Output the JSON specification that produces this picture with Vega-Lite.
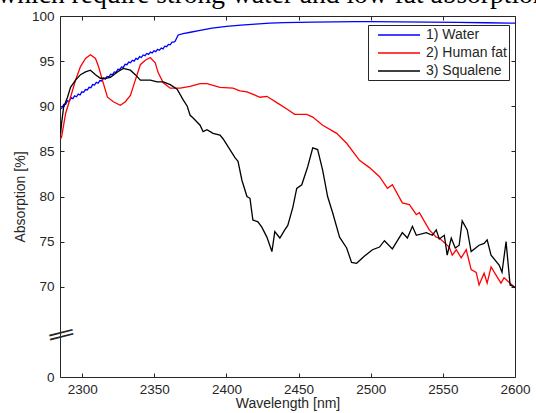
{
  "$schema": "https://vega.github.io/schema/vega-lite/v6.json",
  "width": 455,
  "height": 361,
  "autosize": {"type": "none"},
  "padding": {"left": 60, "top": 16, "right": 21, "bottom": 36},
  "background": "white",
  "title": {"text": "which require strong water and low fat absorption", "font": "Liberation Serif", "fontSize": 27.5, "fontWeight": "normal", "color": "black", "anchor": "start", "dx": -16, "dy": 21, "baseline": "alphabetic", "offset": 0},
  "config": {"view": {"stroke": null}, "font": "Liberation Sans"},
  "datasets": {
    "spectra": [
      {"s":"1) Water","w":2285.0,"v":89.7},{"s":"1) Water","w":2286.0,"v":89.85},{"s":"1) Water","w":2287.25,"v":90.2},{"s":"1) Water","w":2288.5,"v":90.2},{"s":"1) Water","w":2289.75,"v":90.6},{"s":"1) Water","w":2291.0,"v":90.55},{"s":"1) Water","w":2292.25,"v":90.95},{"s":"1) Water","w":2293.5,"v":90.85},{"s":"1) Water","w":2294.75,"v":91.15},{"s":"1) Water","w":2296.0,"v":91.05},{"s":"1) Water","w":2297.25,"v":91.35},{"s":"1) Water","w":2298.5,"v":91.25},{"s":"1) Water","w":2299.75,"v":91.6},{"s":"1) Water","w":2301.0,"v":91.55},{"s":"1) Water","w":2302.25,"v":91.85},{"s":"1) Water","w":2303.5,"v":91.8},{"s":"1) Water","w":2304.75,"v":92.1},{"s":"1) Water","w":2306.0,"v":92.05},{"s":"1) Water","w":2307.25,"v":92.4},{"s":"1) Water","w":2308.5,"v":92.35},{"s":"1) Water","w":2309.75,"v":92.65},{"s":"1) Water","w":2311.0,"v":92.55},{"s":"1) Water","w":2312.25,"v":92.85},{"s":"1) Water","w":2313.5,"v":92.8},{"s":"1) Water","w":2314.75,"v":93.1},{"s":"1) Water","w":2316.0,"v":93.0},{"s":"1) Water","w":2317.25,"v":93.3},{"s":"1) Water","w":2318.5,"v":93.25},{"s":"1) Water","w":2319.75,"v":93.55},{"s":"1) Water","w":2321.0,"v":93.5},{"s":"1) Water","w":2322.25,"v":93.8},{"s":"1) Water","w":2323.5,"v":93.75},{"s":"1) Water","w":2324.75,"v":94.1},{"s":"1) Water","w":2326.0,"v":94.05},{"s":"1) Water","w":2327.25,"v":94.35},{"s":"1) Water","w":2328.5,"v":94.3},{"s":"1) Water","w":2329.75,"v":94.65},{"s":"1) Water","w":2331.0,"v":94.6},{"s":"1) Water","w":2332.25,"v":94.9},{"s":"1) Water","w":2333.5,"v":94.82},{"s":"1) Water","w":2334.75,"v":95.1},{"s":"1) Water","w":2336.0,"v":95.0},{"s":"1) Water","w":2337.25,"v":95.3},{"s":"1) Water","w":2338.5,"v":95.2},{"s":"1) Water","w":2339.75,"v":95.5},{"s":"1) Water","w":2341.0,"v":95.4},{"s":"1) Water","w":2342.25,"v":95.68},{"s":"1) Water","w":2343.5,"v":95.6},{"s":"1) Water","w":2344.75,"v":95.85},{"s":"1) Water","w":2346.0,"v":95.75},{"s":"1) Water","w":2347.25,"v":96.0},{"s":"1) Water","w":2348.5,"v":95.9},{"s":"1) Water","w":2349.75,"v":96.15},{"s":"1) Water","w":2351.0,"v":96.05},{"s":"1) Water","w":2352.25,"v":96.3},{"s":"1) Water","w":2353.5,"v":96.2},{"s":"1) Water","w":2354.75,"v":96.45},{"s":"1) Water","w":2356.0,"v":96.35},{"s":"1) Water","w":2357.25,"v":96.65},{"s":"1) Water","w":2358.5,"v":96.6},{"s":"1) Water","w":2359.75,"v":96.85},{"s":"1) Water","w":2361.0,"v":96.8},{"s":"1) Water","w":2362.25,"v":97.1},{"s":"1) Water","w":2363.5,"v":97.1},{"s":"1) Water","w":2364.4,"v":97.2},{"s":"1) Water","w":2366.5,"v":97.9},{"s":"1) Water","w":2370,"v":98.05},{"s":"1) Water","w":2375,"v":98.2},{"s":"1) Water","w":2381.7,"v":98.4},{"s":"1) Water","w":2390,"v":98.65},{"s":"1) Water","w":2400,"v":98.85},{"s":"1) Water","w":2410,"v":99.0},{"s":"1) Water","w":2420,"v":99.1},{"s":"1) Water","w":2430,"v":99.2},{"s":"1) Water","w":2440,"v":99.27},{"s":"1) Water","w":2450,"v":99.3},{"s":"1) Water","w":2460,"v":99.33},{"s":"1) Water","w":2475,"v":99.35},{"s":"1) Water","w":2490,"v":99.38},{"s":"1) Water","w":2500,"v":99.38},{"s":"1) Water","w":2520,"v":99.35},{"s":"1) Water","w":2540,"v":99.33},{"s":"1) Water","w":2560,"v":99.3},{"s":"1) Water","w":2580,"v":99.25},{"s":"1) Water","w":2600,"v":99.2},
      {"s":"2) Human fat","w":2285.0,"v":86.4},{"s":"2) Human fat","w":2285.7,"v":86.6},{"s":"2) Human fat","w":2288.5,"v":89.2},{"s":"2) Human fat","w":2291.9,"v":91.0},{"s":"2) Human fat","w":2295.4,"v":92.9},{"s":"2) Human fat","w":2298.8,"v":94.4},{"s":"2) Human fat","w":2302.3,"v":95.3},{"s":"2) Human fat","w":2305.7,"v":95.7},{"s":"2) Human fat","w":2309.2,"v":95.3},{"s":"2) Human fat","w":2311.3,"v":94.4},{"s":"2) Human fat","w":2314.0,"v":92.9},{"s":"2) Human fat","w":2317.5,"v":91.0},{"s":"2) Human fat","w":2321.6,"v":90.5},{"s":"2) Human fat","w":2326.4,"v":90.1},{"s":"2) Human fat","w":2329.9,"v":90.5},{"s":"2) Human fat","w":2333.4,"v":91.2},{"s":"2) Human fat","w":2336.8,"v":92.9},{"s":"2) Human fat","w":2340.3,"v":94.6},{"s":"2) Human fat","w":2343.7,"v":95.1},{"s":"2) Human fat","w":2347.2,"v":95.4},{"s":"2) Human fat","w":2350.6,"v":94.8},{"s":"2) Human fat","w":2352.7,"v":93.7},{"s":"2) Human fat","w":2356.2,"v":92.6},{"s":"2) Human fat","w":2361.0,"v":92.0},{"s":"2) Human fat","w":2367.9,"v":92.0},{"s":"2) Human fat","w":2374.8,"v":92.2},{"s":"2) Human fat","w":2381.7,"v":92.5},{"s":"2) Human fat","w":2386.5,"v":92.5},{"s":"2) Human fat","w":2395.5,"v":92.1},{"s":"2) Human fat","w":2404.5,"v":92.0},{"s":"2) Human fat","w":2409.3,"v":91.7},{"s":"2) Human fat","w":2414.2,"v":91.6},{"s":"2) Human fat","w":2423.2,"v":91.0},{"s":"2) Human fat","w":2428.0,"v":91.1},{"s":"2) Human fat","w":2434.9,"v":90.4},{"s":"2) Human fat","w":2441.8,"v":89.7},{"s":"2) Human fat","w":2447.3,"v":89.1},{"s":"2) Human fat","w":2455.6,"v":89.1},{"s":"2) Human fat","w":2459.8,"v":88.8},{"s":"2) Human fat","w":2466.7,"v":87.9},{"s":"2) Human fat","w":2476.4,"v":87.0},{"s":"2) Human fat","w":2483.3,"v":85.9},{"s":"2) Human fat","w":2492.2,"v":84.0},{"s":"2) Human fat","w":2499.1,"v":83.2},{"s":"2) Human fat","w":2506.1,"v":82.2},{"s":"2) Human fat","w":2511.6,"v":80.9},{"s":"2) Human fat","w":2515.0,"v":81.3},{"s":"2) Human fat","w":2521.9,"v":79.3},{"s":"2) Human fat","w":2526.8,"v":79.1},{"s":"2) Human fat","w":2531.6,"v":78.0},{"s":"2) Human fat","w":2533.7,"v":78.2},{"s":"2) Human fat","w":2540.6,"v":76.3},{"s":"2) Human fat","w":2545.4,"v":75.5},{"s":"2) Human fat","w":2547.5,"v":75.4},{"s":"2) Human fat","w":2554.4,"v":74.4},{"s":"2) Human fat","w":2556.5,"v":73.5},{"s":"2) Human fat","w":2559.3,"v":74.1},{"s":"2) Human fat","w":2562.7,"v":73.2},{"s":"2) Human fat","w":2566.2,"v":74.1},{"s":"2) Human fat","w":2569.6,"v":71.9},{"s":"2) Human fat","w":2573.1,"v":71.6},{"s":"2) Human fat","w":2575.1,"v":70.2},{"s":"2) Human fat","w":2578.6,"v":71.5},{"s":"2) Human fat","w":2580.7,"v":70.4},{"s":"2) Human fat","w":2583.4,"v":72.2},{"s":"2) Human fat","w":2587.6,"v":71.1},{"s":"2) Human fat","w":2590.3,"v":70.4},{"s":"2) Human fat","w":2592.4,"v":71.0},{"s":"2) Human fat","w":2595.9,"v":70.5},{"s":"2) Human fat","w":2599.3,"v":70.0},{"s":"2) Human fat","w":2600,"v":69.9},
      {"s":"3) Squalene","w":2285.0,"v":87.0},{"s":"3) Squalene","w":2285.7,"v":88.1},{"s":"3) Squalene","w":2287.1,"v":89.9},{"s":"3) Squalene","w":2289.8,"v":91.0},{"s":"3) Squalene","w":2291.9,"v":92.1},{"s":"3) Squalene","w":2295.4,"v":92.9},{"s":"3) Squalene","w":2298.8,"v":93.5},{"s":"3) Squalene","w":2302.3,"v":93.8},{"s":"3) Squalene","w":2305.7,"v":94.0},{"s":"3) Squalene","w":2309.2,"v":93.5},{"s":"3) Squalene","w":2312.6,"v":93.1},{"s":"3) Squalene","w":2316.1,"v":93.1},{"s":"3) Squalene","w":2319.5,"v":93.2},{"s":"3) Squalene","w":2324.4,"v":93.8},{"s":"3) Squalene","w":2328.5,"v":94.2},{"s":"3) Squalene","w":2333.4,"v":94.0},{"s":"3) Squalene","w":2336.8,"v":93.5},{"s":"3) Squalene","w":2340.3,"v":92.9},{"s":"3) Squalene","w":2347.2,"v":92.9},{"s":"3) Squalene","w":2352.0,"v":92.7},{"s":"3) Squalene","w":2356.2,"v":92.7},{"s":"3) Squalene","w":2361.0,"v":92.4},{"s":"3) Squalene","w":2365.8,"v":91.9},{"s":"3) Squalene","w":2370.0,"v":90.7},{"s":"3) Squalene","w":2372.8,"v":90.0},{"s":"3) Squalene","w":2374.8,"v":89.0},{"s":"3) Squalene","w":2376.9,"v":88.7},{"s":"3) Squalene","w":2381.7,"v":87.9},{"s":"3) Squalene","w":2383.8,"v":87.2},{"s":"3) Squalene","w":2386.5,"v":87.4},{"s":"3) Squalene","w":2390.7,"v":87.0},{"s":"3) Squalene","w":2395.5,"v":86.8},{"s":"3) Squalene","w":2397.6,"v":86.4},{"s":"3) Squalene","w":2402.4,"v":85.2},{"s":"3) Squalene","w":2405.9,"v":84.3},{"s":"3) Squalene","w":2408.0,"v":83.9},{"s":"3) Squalene","w":2410.7,"v":81.8},{"s":"3) Squalene","w":2414.2,"v":80.0},{"s":"3) Squalene","w":2416.3,"v":79.8},{"s":"3) Squalene","w":2418.3,"v":77.4},{"s":"3) Squalene","w":2421.8,"v":77.2},{"s":"3) Squalene","w":2424.5,"v":76.6},{"s":"3) Squalene","w":2428.0,"v":75.5},{"s":"3) Squalene","w":2431.5,"v":73.9},{"s":"3) Squalene","w":2433.5,"v":76.1},{"s":"3) Squalene","w":2437.0,"v":75.4},{"s":"3) Squalene","w":2440.4,"v":76.3},{"s":"3) Squalene","w":2442.5,"v":76.8},{"s":"3) Squalene","w":2446.0,"v":78.8},{"s":"3) Squalene","w":2448.7,"v":80.9},{"s":"3) Squalene","w":2452.2,"v":81.3},{"s":"3) Squalene","w":2456.3,"v":83.3},{"s":"3) Squalene","w":2459.8,"v":85.4},{"s":"3) Squalene","w":2463.2,"v":85.2},{"s":"3) Squalene","w":2466.7,"v":82.9},{"s":"3) Squalene","w":2470.1,"v":80.0},{"s":"3) Squalene","w":2473.6,"v":78.2},{"s":"3) Squalene","w":2478.4,"v":75.5},{"s":"3) Squalene","w":2483.3,"v":74.3},{"s":"3) Squalene","w":2486.7,"v":72.7},{"s":"3) Squalene","w":2490.2,"v":72.6},{"s":"3) Squalene","w":2495.7,"v":73.4},{"s":"3) Squalene","w":2501.2,"v":74.1},{"s":"3) Squalene","w":2506.1,"v":74.4},{"s":"3) Squalene","w":2509.5,"v":75.1},{"s":"3) Squalene","w":2515.0,"v":74.2},{"s":"3) Squalene","w":2521.9,"v":76.0},{"s":"3) Squalene","w":2525.4,"v":75.4},{"s":"3) Squalene","w":2528.9,"v":76.7},{"s":"3) Squalene","w":2531.6,"v":75.7},{"s":"3) Squalene","w":2538.5,"v":76.0},{"s":"3) Squalene","w":2542.7,"v":75.7},{"s":"3) Squalene","w":2545.4,"v":76.3},{"s":"3) Squalene","w":2547.5,"v":75.3},{"s":"3) Squalene","w":2551.0,"v":75.7},{"s":"3) Squalene","w":2553.0,"v":73.5},{"s":"3) Squalene","w":2555.8,"v":75.4},{"s":"3) Squalene","w":2558.6,"v":74.3},{"s":"3) Squalene","w":2561.3,"v":74.6},{"s":"3) Squalene","w":2563.4,"v":77.3},{"s":"3) Squalene","w":2566.9,"v":76.3},{"s":"3) Squalene","w":2569.6,"v":73.9},{"s":"3) Squalene","w":2575.1,"v":74.6},{"s":"3) Squalene","w":2578.6,"v":74.8},{"s":"3) Squalene","w":2580.7,"v":75.2},{"s":"3) Squalene","w":2583.4,"v":73.5},{"s":"3) Squalene","w":2589.0,"v":72.4},{"s":"3) Squalene","w":2591.0,"v":71.6},{"s":"3) Squalene","w":2593.8,"v":75.0},{"s":"3) Squalene","w":2596.6,"v":70.2},{"s":"3) Squalene","w":2599.3,"v":70.0},{"s":"3) Squalene","w":2600,"v":69.9}
    ],
    "brk": [{"w": 2285, "v": 65}]
  },
  "layer": [
    {
      "data": {"name": "spectra"},
      "mark": {"type": "line", "strokeWidth": 1.3, "clip": true},
      "encoding": {
        "x": {"field": "w", "type": "quantitative", "scale": {"domain": [2284.6, 2600], "nice": false, "zero": false},
          "axis": {"orient": "bottom", "values": [2300, 2350, 2400, 2450, 2500, 2550, 2600], "format": "d", "title": "Wavelength [nm]", "grid": false, "tickSize": -4, "labelPadding": 9, "labelFlush": false, "labelFont": "Liberation Sans", "labelFontSize": 13.5, "labelColor": "#262626", "titleFont": "Liberation Sans", "titleFontSize": 14, "titleFontWeight": "normal", "titleColor": "#262626", "titlePadding": 1, "domainColor": "#262626", "tickColor": "#262626"}},
        "y": {"field": "v", "type": "quantitative", "scale": {"domain": [60, 100], "nice": false, "zero": false},
          "axis": {"orient": "left", "values": [60, 70, 75, 80, 85, 90, 95, 100], "labelExpr": "datum.value == 60 ? '0' : datum.label", "title": "Absorption [%]", "grid": false, "tickSize": -4, "labelPadding": 10, "labelFont": "Liberation Sans", "labelFontSize": 13.5, "labelColor": "#262626", "titleFont": "Liberation Sans", "titleFontSize": 14, "titleFontWeight": "normal", "titleColor": "#262626", "titlePadding": 4, "domainColor": "#262626", "tickColor": "#262626"}},
        "color": {"field": "s", "type": "nominal", "scale": {"domain": ["1) Water", "2) Human fat", "3) Squalene"], "range": ["#0000ff", "#ff0000", "#000000"]},
          "legend": {"orient": "none", "legendX": 308, "legendY": 9, "title": null, "symbolType": "M0,0H6", "symbolSize": 196, "symbolStrokeWidth": 1.3, "labelOffset": 40, "labelFont": "Liberation Sans", "labelFontSize": 14, "labelColor": "#262626", "padding": 2, "strokeColor": "#262626", "fillColor": "white", "rowPadding": 3}}
      }
    },
    {
      "data": {"name": "spectra"},
      "mark": {"type": "line", "opacity": 0},
      "encoding": {
        "x": {"field": "w", "type": "quantitative", "axis": {"orient": "top", "values": [2300, 2350, 2400, 2450, 2500, 2550, 2600], "labels": false, "title": null, "grid": false, "tickSize": -4, "domainColor": "#262626", "tickColor": "#262626"}},
        "y": {"field": "v", "type": "quantitative", "axis": {"orient": "right", "values": [70, 75, 80, 85, 90, 95, 100], "labels": false, "title": null, "grid": false, "tickSize": -4, "domainColor": "#262626", "tickColor": "#262626"}},
        "detail": {"field": "s", "type": "nominal"}
      }
    },
    {
      "data": {"name": "brk"},
      "mark": {"type": "text", "text": ["—", "—"], "angle": -14, "fontSize": 24, "lineHeight": 4, "font": "Liberation Sans", "color": "#262626", "align": "center", "baseline": "middle"},
      "encoding": {
        "x": {"field": "w", "type": "quantitative", "axis": null},
        "y": {"field": "v", "type": "quantitative", "axis": null}
      }
    }
  ],
  "resolve": {"axis": {"x": "independent", "y": "independent"}}
}
